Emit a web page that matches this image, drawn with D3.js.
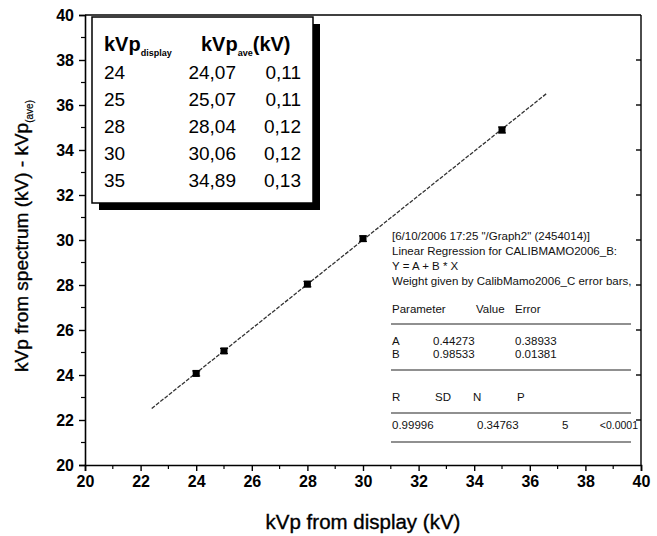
<!DOCTYPE html>
<html>
<head>
<meta charset="utf-8">
<script src="https://cdn.jsdelivr.net/npm/d3@7"></script>
<style>
  html, body { margin: 0; padding: 0; background: #fff; }
  svg { display: block; font-family: "Liberation Sans", Arial, sans-serif; }
</style>
</head>
<body>
<svg id="chart" width="657" height="536"></svg>
<script>
// Measured tube voltages: display setting vs. averaged spectrum value
const kvpDisplay = [24, 25, 28, 30, 35];
const kvpAve     = [24.07, 25.07, 28.04, 30.06, 34.89];
const kvpErr     = [0.11, 0.11, 0.12, 0.12, 0.13];

const tableDisplay = ["24", "25", "28", "30", "35"];
const tableAve     = ["24,07", "25,07", "28,04", "30,06", "34,89"];
const tableErr     = ["0,11", "0,11", "0,12", "0,12", "0,13"];

// Linear fit Y = A + B * X
const fitA = 0.44273, fitB = 0.98533;
const fitRange = [22.4, 36.6];

const xTicks = [20, 22, 24, 26, 28, 30, 32, 34, 36, 38, 40];
const yTicks = [20, 22, 24, 26, 28, 30, 32, 34, 36, 38, 40];
const minorTicks = [21, 23, 25, 27, 29, 31, 33, 35, 37, 39];

const fitHeader = [
  '[6/10/2006 17:25 "/Graph2" (2454014)]',
  'Linear Regression for CALIBMAMO2006_B:',
  'Y = A + B * X',
  'Weight given by CalibMamo2006_C error bars,'
];
const paramHeader = ["Parameter", "Value", "Error"];
const paramRows = [["A", "0.44273", "0.38933"], ["B", "0.98533", "0.01381"]];
const statHeader = ["R", "SD", "N", "P"];
const statRow = ["0.99996", "0.34763", "5", "<0.0001"];

const svg = d3.select("#chart");
const W = 657, H = 536;
const m = { left: 85, right: 16, top: 15, bottom: 71 };

const x = d3.scaleLinear().domain([20, 40]).range([m.left, W - m.right]);
const y = d3.scaleLinear().domain([20, 40]).range([H - m.bottom, m.top]);

// Frame (top and right)
svg.append("line").attr("x1", x(20)).attr("x2", x(40)).attr("y1", y(40)).attr("y2", y(40))
  .attr("stroke", "#000").attr("stroke-width", 1.6);
svg.append("line").attr("x1", x(40)).attr("x2", x(40)).attr("y1", y(40)).attr("y2", y(20))
  .attr("stroke", "#000").attr("stroke-width", 1.4);
// inward ticks on the right frame
svg.append("g").selectAll("line").data(yTicks.slice(1, -1)).join("line")
  .attr("x1", x(40) - 5).attr("x2", x(40)).attr("y1", d => y(d)).attr("y2", d => y(d))
  .attr("stroke", "#000").attr("stroke-width", 1.4);

// Bottom axis
const xAxis = svg.append("g").attr("transform", `translate(0,${y(20)})`)
  .call(d3.axisBottom(x).tickValues(xTicks).tickSize(6).tickPadding(5).tickFormat(d3.format("d")));
xAxis.select(".domain").attr("stroke-width", 1.6);
xAxis.selectAll(".tick line").attr("stroke-width", 1.4);
xAxis.selectAll("text").attr("font-size", 16).attr("font-weight", "bold").attr("fill", "#000");
xAxis.append("g").selectAll("line").data(minorTicks).join("line")
  .attr("x1", d => x(d)).attr("x2", d => x(d)).attr("y1", 0).attr("y2", 4)
  .attr("stroke", "#000").attr("stroke-width", 1.2);

// Left axis
const yAxis = svg.append("g").attr("transform", `translate(${x(20)},0)`)
  .call(d3.axisLeft(y).tickValues(yTicks).tickSize(6).tickPadding(5).tickFormat(d3.format("d")));
yAxis.select(".domain").attr("stroke-width", 1.6);
yAxis.selectAll(".tick line").attr("stroke-width", 1.4);
yAxis.selectAll("text").attr("font-size", 16).attr("font-weight", "bold").attr("fill", "#000");
yAxis.append("g").selectAll("line").data(minorTicks).join("line")
  .attr("x1", -4).attr("x2", 0).attr("y1", d => y(d)).attr("y2", d => y(d))
  .attr("stroke", "#000").attr("stroke-width", 1.2);

// Axis titles
svg.append("text").attr("x", (x(20) + x(40)) / 2).attr("y", 529)
  .attr("text-anchor", "middle").attr("font-size", 20.5)
  .attr("stroke", "#000").attr("stroke-width", 0.35).text("kVp from display (kV)");

const yTitle = svg.append("text")
  .attr("transform", "translate(28,236) rotate(-90)")
  .attr("text-anchor", "middle").attr("font-size", 19)
  .attr("stroke", "#000").attr("stroke-width", 0.35);
yTitle.append("tspan").text("kVp from spectrum (kV) - kVp");
yTitle.append("tspan").attr("font-size", 10).attr("stroke-width", 0.2).attr("dy", 5).text("(ave)");

// Fit line
svg.append("line")
  .attr("x1", x(fitRange[0])).attr("y1", y(fitA + fitB * fitRange[0]))
  .attr("x2", x(fitRange[1])).attr("y2", y(fitA + fitB * fitRange[1]))
  .attr("stroke", "#333").attr("stroke-width", 1.3).attr("stroke-dasharray", "4,1.5");

// Data points with error bars
const pts = svg.append("g");
kvpDisplay.forEach((d, i) => {
  const cx = x(d), cy = y(kvpAve[i]);
  pts.append("line").attr("x1", cx).attr("x2", cx)
    .attr("y1", y(kvpAve[i] - kvpErr[i])).attr("y2", y(kvpAve[i] + kvpErr[i]))
    .attr("stroke", "#000").attr("stroke-width", 1);
  [kvpAve[i] - kvpErr[i], kvpAve[i] + kvpErr[i]].forEach(v => {
    pts.append("line").attr("x1", cx - 4).attr("x2", cx + 4).attr("y1", y(v)).attr("y2", y(v))
      .attr("stroke", "#000").attr("stroke-width", 1);
  });
  pts.append("rect").attr("x", cx - 3.5).attr("y", cy - 3.5).attr("width", 7).attr("height", 7)
    .attr("fill", "#000");
});

// Inset data table with drop shadow
const tb = { x: 92, y: 17, w: 221, h: 186, off: 7 };
svg.append("rect").attr("x", tb.x + tb.off).attr("y", tb.y + tb.off)
  .attr("width", tb.w).attr("height", tb.h).attr("fill", "#000");
svg.append("rect").attr("x", tb.x).attr("y", tb.y).attr("width", tb.w).attr("height", tb.h)
  .attr("fill", "#fff").attr("stroke", "#000").attr("stroke-width", 1.5);

const hdr = svg.append("text").attr("x", 104).attr("y", 51).attr("font-size", 20).attr("font-weight", "bold");
hdr.append("tspan").text("kVp");
hdr.append("tspan").attr("font-size", 9).attr("dy", 5).text("display");
const hdr2 = svg.append("text").attr("x", 201).attr("y", 51).attr("font-size", 20).attr("font-weight", "bold");
hdr2.append("tspan").text("kVp");
hdr2.append("tspan").attr("font-size", 9).attr("dy", 5).text("ave");
hdr2.append("tspan").attr("dy", -5).text("(kV)");

const rowY = i => 79 + 27 * i;
const tg = svg.append("g").attr("font-size", 19);
tableDisplay.forEach((t, i) => {
  tg.append("text").attr("x", 104).attr("y", rowY(i)).text(t);
  tg.append("text").attr("x", 236).attr("y", rowY(i)).attr("text-anchor", "end").text(tableAve[i]);
  tg.append("text").attr("x", 301).attr("y", rowY(i)).attr("text-anchor", "end").text(tableErr[i]);
});

// Regression report
const rg = svg.append("g").attr("font-size", 11.5).attr("fill", "#111");
fitHeader.forEach((t, i) => rg.append("text").attr("x", 392).attr("y", 240 + 15 * i).text(t));
const pCols = [392, 433, 515];
const phX = [392, 476, 515];
paramHeader.forEach((t, i) => rg.append("text").attr("x", phX[i]).attr("y", 313).text(t));
paramRows.forEach((r, j) => r.forEach((t, i) =>
  rg.append("text").attr("x", pCols[i]).attr("y", 345 + 13 * j).text(t)));
const sCols = [392, 435, 473, 517];
statHeader.forEach((t, i) => rg.append("text").attr("x", sCols[i]).attr("y", 401).text(t));
const vCols = [392, 477, 562, 638];
statRow.forEach((t, i) => rg.append("text").attr("x", vCols[i]).attr("y", 429)
  .attr("text-anchor", i === 3 ? "end" : "start")
  .attr("font-size", i === 3 ? 10.5 : null).text(t));
[324, 370, 413, 442].forEach(ly => rg.append("line")
  .attr("x1", 391).attr("x2", 631).attr("y1", ly).attr("y2", ly)
  .attr("stroke", "#222").attr("stroke-width", 1.2));
</script>
</body>
</html>
